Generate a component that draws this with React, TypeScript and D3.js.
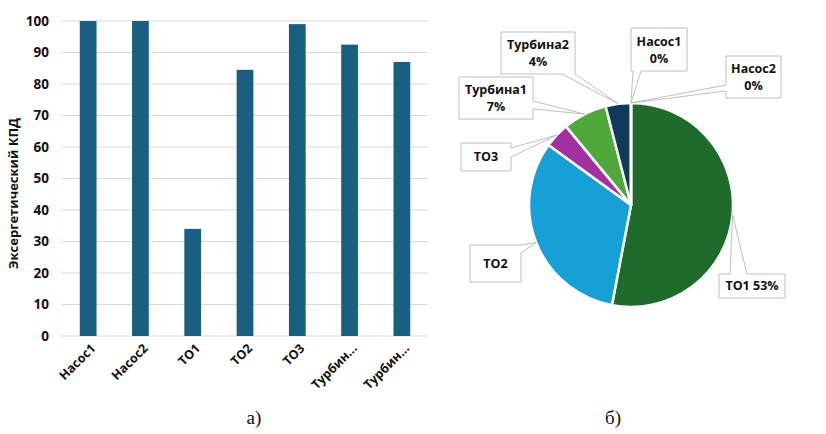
import * as d3 from "d3";

const barNames = ["Насос1", "Насос2", "ТО1", "ТО2", "ТО3", "Турбина1", "Турбина2"];
const barShort = ["Насос1", "Насос2", "ТО1", "ТО2", "ТО3", "Турбин...", "Турбин..."];
const barValues = [100, 100, 34, 84.5, 99, 92.5, 87];
const yTicks = [0, 10, 20, 30, 40, 50, 60, 70, 80, 90, 100];

const pieNames = ["ТО1", "ТО2", "ТО3", "Турбина1", "Турбина2", "Насос1", "Насос2"];
const pieValues = [53, 32, 4, 7, 4, 0, 0];
const pieColors = ["#1e6b2b", "#17a0d6", "#a3309f", "#4fa83a", "#0f3a5b", "#2e6b9e", "#7aa83a"];
// how each label shows: name + pct on two lines, name only, or inline
const pieLabelMode = ["inline", "name", "name", "two", "two", "two", "two"];

// callout boxes: x, y, w, h, side of the pointer and its base offsets along that side
const callouts = [
  { x: 719, y: 274, w: 66, h: 24, side: "top", a: 11, b: 28 },
  { x: 470, y: 245, w: 51, h: 37, side: "right", a: 0, b: 8 },
  { x: 461, y: 143, w: 50, h: 28, side: "right", a: 5, b: 14 },
  { x: 459, y: 77, w: 74, h: 42, side: "right", a: 24, b: 32 },
  { x: 501, y: 32, w: 74, h: 42, side: "bottom", a: 61, b: 74 },
  { x: 631, y: 28, w: 56, h: 43, side: "bottom", a: 2, b: 10 },
  { x: 726, y: 56, w: 55, h: 42, side: "left", a: 29, b: 35 },
];

const FONT = "'Open Sans', 'Noto Sans', sans-serif";

function calloutPath(c: any, tip: [number, number]) {
  const { x, y, w, h, side, a, b } = c;
  const t = `L${tip[0]},${tip[1]}`;
  let p = `M${x},${y}`;
  if (side === "top") p += `L${x + a},${y}${t}L${x + b},${y}`;
  p += `L${x + w},${y}`;
  if (side === "right") p += `L${x + w},${y + a}${t}L${x + w},${y + b}`;
  p += `L${x + w},${y + h}`;
  if (side === "bottom") p += `L${x + b},${y + h}${t}L${x + a},${y + h}`;
  p += `L${x},${y + h}`;
  if (side === "left") p += `L${x},${y + b}${t}L${x},${y + a}`;
  return p + "Z";
}

function BarChart() {
  const left = 62, right = 428, top = 21, bottom = 336;
  const x = d3.scaleBand().domain(barNames).range([left, right]).paddingInner(0.68).paddingOuter(0.34);
  const y = d3.scaleLinear().domain([0, 100]).range([bottom, top]);
  return (
    <g>
      {yTicks.map((t) => (
        <g key={t}>
          <line x1={left} x2={right} y1={y(t)} y2={y(t)} stroke="#d9d9d9" strokeWidth={1} />
          <text x={49} y={y(t)} dy="0.35em" textAnchor="end" fontSize={13.5} fontWeight={700} fill="#111">{t}</text>
        </g>
      ))}
      {barNames.map((n, i) => (
        <rect key={n} x={x(n)} y={y(barValues[i])} width={x.bandwidth()} height={bottom - y(barValues[i])} fill="#185f82" />
      ))}
      {barNames.map((n, i) => {
        const cx = (x(n) as number) + x.bandwidth() / 2 + 5;
        return (
          <text key={n} transform={`translate(${cx},346) rotate(-45)`} textAnchor="end" dy="0.35em" fontSize={12.5} fontWeight={700} fill="#111">
            {barShort[i]}
          </text>
        );
      })}
      <text transform={`translate(18,${(top + bottom) / 2 + 15}) rotate(-90)`} textAnchor="middle" fontSize={13} fontWeight={700} fill="#111">
        Эксергетический КПД
      </text>
    </g>
  );
}

function PieChart() {
  const cx = 631, cy = 205, r = 102;
  const total = d3.sum(pieValues);
  const arcs = d3.pie<number>().sort(null).value((d) => d)(pieValues);
  const arc = d3.arc<d3.PieArcDatum<number>>().innerRadius(0).outerRadius(r);
  return (
    <g>
      {arcs.map((a, i) => (
        <path key={pieNames[i]} transform={`translate(${cx},${cy})`} d={arc(a) || ""} fill={pieColors[i]} stroke="#fff" strokeWidth={2.5} strokeLinejoin="round" />
      ))}
      {arcs.map((a, i) => {
        const mid = (a.startAngle + a.endAngle) / 2;
        const tip: [number, number] = [cx + r * Math.sin(mid), cy - r * Math.cos(mid)];
        const c = callouts[i];
        const pct = Math.round((pieValues[i] / total) * 100) + "%";
        const mode = pieLabelMode[i];
        const mx = c.x + c.w / 2;
        return (
          <g key={pieNames[i]}>
            <path d={calloutPath(c, tip)} fill="#fff" stroke="#bfbfbf" strokeWidth={1} />
            {mode === "two" ? (
              <>
                <text x={mx} y={c.y + c.h / 2 - 8} dy="0.35em" textAnchor="middle" fontSize={12.5} fontWeight={700} fill="#111">{pieNames[i]}</text>
                <text x={mx} y={c.y + c.h / 2 + 9} dy="0.35em" textAnchor="middle" fontSize={12.5} fontWeight={700} fill="#111">{pct}</text>
              </>
            ) : (
              <text x={mx} y={c.y + c.h / 2} dy="0.35em" textAnchor="middle" fontSize={12.5} fontWeight={700} fill="#111">
                {mode === "inline" ? `${pieNames[i]} ${pct}` : pieNames[i]}
              </text>
            )}
          </g>
        );
      })}
    </g>
  );
}

export default function App() {
  return (
    <div style={{ position: "fixed", left: 0, top: 0 }}>
      <svg width={826} height={434} style={{ display: "block", background: "#fff" }} fontFamily={FONT}>
        <BarChart />
        <PieChart />
        <text x={254} y={424} textAnchor="middle" fontSize={19} fontFamily="'Liberation Serif', 'Times New Roman', serif" fill="#111">а)</text>
        <text x={613} y={424} textAnchor="middle" fontSize={19} fontFamily="'Liberation Serif', 'Times New Roman', serif" fill="#111">б)</text>
      </svg>
    </div>
  );
}
